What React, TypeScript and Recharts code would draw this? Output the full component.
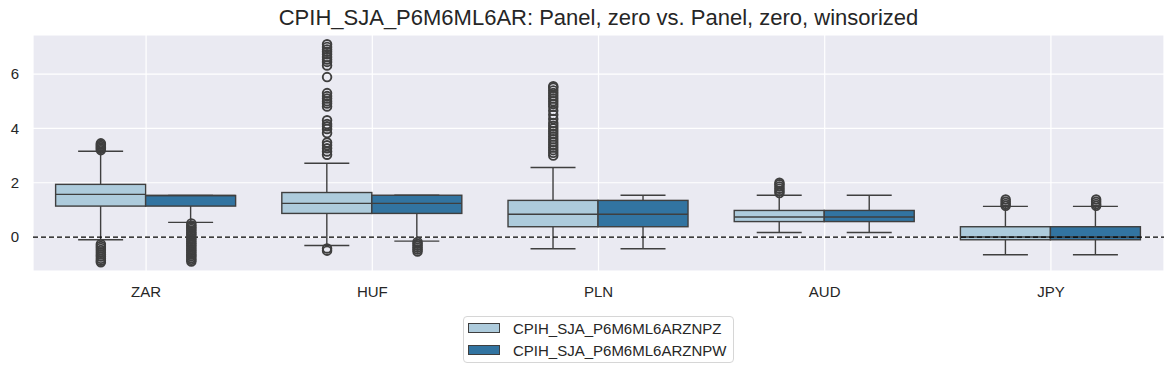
import React from 'react';
import { ComposedChart, Bar, Scatter, XAxis, YAxis, CartesianGrid, ReferenceLine, Legend } from 'recharts';

const categories = ['ZAR', 'HUF', 'PLN', 'AUD', 'JPY'];
const seriesNames = ['CPIH_SJA_P6M6ML6ARZNPZ', 'CPIH_SJA_P6M6ML6ARZNPW'];
const seriesColors = ['#adcbdc', '#3274a1'];
const yTicks = [0, 2, 4, 6];

// Panel, zero (NPZ)
const npzLow = [-0.10, -0.31, -0.43, 0.17, -0.65];
const npzQ1 = [1.14, 0.87, 0.38, 0.57, -0.10];
const npzMedian = [1.57, 1.24, 0.84, 0.74, 0.00];
const npzQ3 = [1.94, 1.64, 1.35, 0.98, 0.38];
const npzHigh = [3.16, 2.72, 2.56, 1.54, 1.13];
const npzOutliers = [
  [3.2, 3.25, 3.3, 3.35, 3.4, 3.45, -0.26, -0.33, -0.4, -0.48, -0.56, -0.64, -0.72, -0.8, -0.87, -0.93],
  [3.03, 3.15, 3.27, 3.38, 3.48, 3.83, 3.98, 4.08, 4.16, 4.3, 4.81, 4.92, 5.0, 5.1, 5.19, 5.3, 5.89, 6.32, 6.45, 6.54, 6.63, 6.73, 6.82, 6.91, 7.0, 7.1, -0.42, -0.5],
  [3.0, 3.1, 3.2, 3.3, 3.4, 3.5, 3.6, 3.7, 3.8, 3.9, 4.0, 4.1, 4.2, 4.35, 4.5, 4.65, 4.8, 4.9, 5.0, 5.1, 5.2, 5.3, 5.4, 5.5, 5.55],
  [1.62, 1.7, 1.78, 1.86, 1.94, 2.0],
  [1.15, 1.22, 1.3, 1.38],
];

// Panel, zero, winsorized (NPW)
const npwLow = [0.54, -0.15, -0.43, 0.17, -0.65];
const npwQ1 = [1.14, 0.87, 0.38, 0.57, -0.10];
const npwMedian = [1.53, 1.24, 0.84, 0.74, 0.00];
const npwQ3 = [1.53, 1.54, 1.35, 0.98, 0.38];
const npwHigh = [1.53, 1.54, 1.54, 1.54, 1.13];
const npwOutliers = [
  [0.5, 0.43, 0.36, 0.3, 0.23, 0.16, 0.1, 0.03, -0.04, -0.1, -0.17, -0.24, -0.3, -0.37, -0.44, -0.5, -0.57, -0.64, -0.7, -0.77, -0.84, -0.9],
  [-0.18, -0.25, -0.32, -0.39, -0.46, -0.53],
  [],
  [],
  [1.15, 1.22, 1.3, 1.38],
];

const data = categories.map((cat, i) => ({
  cat,
  zLo: npzLow[i], zQ1: npzQ1[i], zMed: npzMedian[i], zQ3: npzQ3[i], zHi: npzHigh[i],
  wLo: npwLow[i], wQ1: npwQ1[i], wMed: npwMedian[i], wQ3: npwQ3[i], wHi: npwHigh[i],
}));

const outlierData = (lists: number[][], shift: number) =>
  lists.flatMap((vals, i) => vals.map((v) => ({ x: i + shift, y: v })));
const npzPoints = outlierData(npzOutliers, -0.2);
const npwPoints = outlierData(npwOutliers, 0.2);

const LINE = '#3f3f3f';
const FONT = '"Liberation Sans", Arial, sans-serif';

const makeBoxShape = (k: string, fill: string) => (props: any) => {
  const { x, y, width, height, payload } = props;
  if (!payload) return <g />;
  const lo = payload[k + 'Lo'];
  const hi = payload[k + 'Hi'];
  const q1 = payload[k + 'Q1'];
  const q3 = payload[k + 'Q3'];
  const med = payload[k + 'Med'];
  const top = Math.min(y, y + height);
  const h = Math.abs(height);
  const py = (v: number) => (hi === lo ? top : top + ((hi - v) / (hi - lo)) * h);
  const cx = x + width / 2;
  const capHalf = width / 4;
  return (
    <g>
      <line x1={cx} x2={cx} y1={py(hi)} y2={py(q3)} stroke={LINE} strokeWidth={1.4} />
      <line x1={cx} x2={cx} y1={py(q1)} y2={py(lo)} stroke={LINE} strokeWidth={1.4} />
      <line x1={cx - capHalf} x2={cx + capHalf} y1={py(hi)} y2={py(hi)} stroke={LINE} strokeWidth={1.4} />
      <line x1={cx - capHalf} x2={cx + capHalf} y1={py(lo)} y2={py(lo)} stroke={LINE} strokeWidth={1.4} />
      <rect x={x} y={py(q3)} width={width} height={Math.max(py(q1) - py(q3), 0.5)} fill={fill} stroke={LINE} strokeWidth={1.4} />
      <line x1={x} x2={x + width} y1={py(med)} y2={py(med)} stroke={LINE} strokeWidth={1.4} />
    </g>
  );
};

const flierShape = (props: any) => (
  <circle cx={props.cx} cy={props.cy} r={4.3} fill="none" stroke={LINE} strokeWidth={1.9} />
);

const LegendBox = () => (
  <div style={{ marginLeft: 463 }}>
    <div
      style={{
        width: 271,
        height: 47,
        boxSizing: 'border-box',
        border: '1px solid #d6d6d6',
        borderRadius: 4,
        background: '#fff',
        padding: '0 0 0 4px',
        fontFamily: FONT,
        fontSize: 15,
        color: '#262626',
      }}
    >
      {seriesNames.map((name, i) => (
        <div key={name} style={{ display: 'flex', alignItems: 'center', height: 22 }}>
          <span
            style={{
              display: 'inline-block',
              boxSizing: 'border-box',
              width: 32,
              height: 10,
              background: seriesColors[i],
              border: `1px solid ${LINE}`,
              marginRight: 13,
            }}
          />
          <span>{name}</span>
        </div>
      ))}
    </div>
  </div>
);

export default function App() {
  return (
    <div style={{ position: 'absolute', left: 0, top: 0, width: 1175, height: 373, background: '#fff' }}>
      <div
        style={{
          position: 'absolute',
          left: 33,
          width: 1131,
          top: 6,
          textAlign: 'center',
          fontFamily: FONT,
          fontSize: 22,
          lineHeight: '24px',
          color: '#262626',
        }}
      >
        CPIH_SJA_P6M6ML6AR: Panel, zero vs. Panel, zero, winsorized
      </div>
      <ComposedChart
        width={1175}
        height={373}
        data={data}
        margin={{ top: 35, right: 11, left: 0, bottom: 10 }}
        barCategoryGap="10%"
        barGap={0}
      >
        <CartesianGrid xAxisId="cat" fill="#eaeaf2" fillOpacity={1} stroke="#ffffff" strokeWidth={1.2} />
        <XAxis
          xAxisId="cat"
          dataKey="cat"
          type="category"
          height={45}
          tickLine={false}
          axisLine={false}
          tickSize={0}
          tickMargin={15}
          tick={{ fill: '#262626', fontSize: 15, fontFamily: FONT }}
        />
        <XAxis xAxisId="num" dataKey="x" type="number" domain={[-0.5, 4.5]} allowDataOverflow hide />
        <YAxis
          width={33}
          domain={[-1.25, 7.44]}
          ticks={yTicks}
          allowDataOverflow
          tickLine={false}
          axisLine={false}
          tickSize={0}
          tickMargin={14}
          tick={{ fill: '#262626', fontSize: 15, fontFamily: FONT }}
        />
        <Bar
          xAxisId="cat"
          dataKey={(d: any) => [d.zLo, d.zHi]}
          name={seriesNames[0]}
          fill={seriesColors[0]}
          shape={makeBoxShape('z', seriesColors[0])}
          isAnimationActive={false}
        />
        <Bar
          xAxisId="cat"
          dataKey={(d: any) => [d.wLo, d.wHi]}
          name={seriesNames[1]}
          fill={seriesColors[1]}
          shape={makeBoxShape('w', seriesColors[1])}
          isAnimationActive={false}
        />
        <Scatter xAxisId="num" data={npzPoints} dataKey="y" shape={flierShape} isAnimationActive={false} legendType="none" />
        <Scatter xAxisId="num" data={npwPoints} dataKey="y" shape={flierShape} isAnimationActive={false} legendType="none" />
        <ReferenceLine xAxisId="cat" y={0} stroke="#000" strokeWidth={1.2} strokeDasharray="5 3" />
        <Legend verticalAlign="bottom" content={() => <LegendBox />} wrapperStyle={{ left: 0, width: 1175, bottom: 10 }} />
      </ComposedChart>
    </div>
  );
}
